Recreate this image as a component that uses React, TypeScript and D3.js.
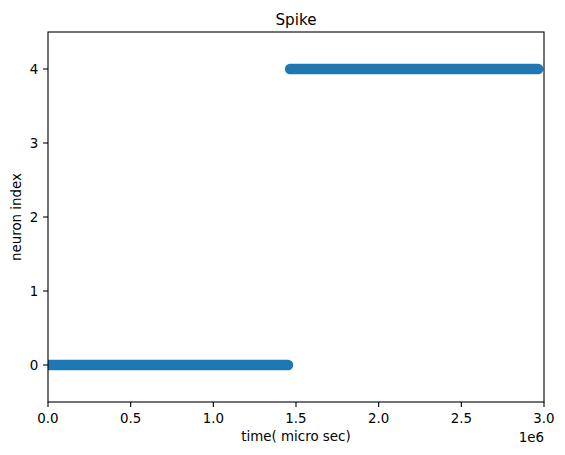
import React from "react";
import * as d3 from "d3";

// Spike trains: neuron index and the time span (µs) over which it fires densely
const neurons = [0, 4];
const spikeStart = [0, 1.464e6];
const spikeEnd = [1.452e6, 2.965e6];
const xTicks = [0, 0.5e6, 1.0e6, 1.5e6, 2.0e6, 2.5e6, 3.0e6];
const yTicks = [0, 1, 2, 3, 4];

const W = 565, H = 455;
const L = 48, R = 544, T = 32, B = 402;
const font = "DejaVu Sans, sans-serif";
const fs = 13.4;

export default function App() {
  const x = d3.scaleLinear().domain([0, 3.0e6]).range([L, R]);
  const y = d3.scaleLinear().domain([-0.5, 4.5]).range([B, T]);
  const line = d3.line<[number, number]>().x(d => x(d[0])).y(d => y(d[1]));
  return (
    <svg width={W} height={H} style={{ position: "absolute", left: 0, top: 0 }}>
      <rect width={W} height={H} fill="#fff" />
      <defs>
        <clipPath id="ax">
          <rect x={L} y={T} width={R - L} height={B - T} />
        </clipPath>
      </defs>
      <g clipPath="url(#ax)">
        {neurons.map((n, i) => (
          <path
            key={i}
            d={line([[spikeStart[i], n], [spikeEnd[i], n]]) || ""}
            stroke="#1f77b4"
            strokeWidth={10.4}
            strokeLinecap="round"
            fill="none"
          />
        ))}
      </g>
      <rect x={L} y={T} width={R - L} height={B - T} fill="none" stroke="#000" strokeWidth={1.1} />
      {xTicks.map(t => (
        <g key={t}>
          <line x1={x(t)} x2={x(t)} y1={B} y2={B + 4.9} stroke="#000" strokeWidth={1.1} />
          <text x={x(t)} y={B + 21} textAnchor="middle" fontFamily={font} fontSize={fs} fill="#000">
            {(t / 1e6).toFixed(1)}
          </text>
        </g>
      ))}
      {yTicks.map(t => (
        <g key={t}>
          <line x1={L - 4.9} x2={L} y1={y(t)} y2={y(t)} stroke="#000" strokeWidth={1.1} />
          <text x={L - 9.7} y={y(t)} dy="0.36em" textAnchor="end" fontFamily={font} fontSize={fs} fill="#000">
            {t}
          </text>
        </g>
      ))}
      <text x={R} y={441.5} textAnchor="end" fontFamily={font} fontSize={fs} fill="#000">1e6</text>
      <text x={(L + R) / 2} y={441} textAnchor="middle" fontFamily={font} fontSize={fs} fill="#000">
        time( micro sec)
      </text>
      <text
        transform={`translate(20.5,${(T + B) / 2}) rotate(-90)`}
        textAnchor="middle"
        fontFamily={font}
        fontSize={fs}
        fill="#000"
      >
        neuron index
      </text>
      <text x={(L + R) / 2} y={25} textAnchor="middle" fontFamily={font} fontSize={15.2} fill="#000">
        Spike
      </text>
    </svg>
  );
}
